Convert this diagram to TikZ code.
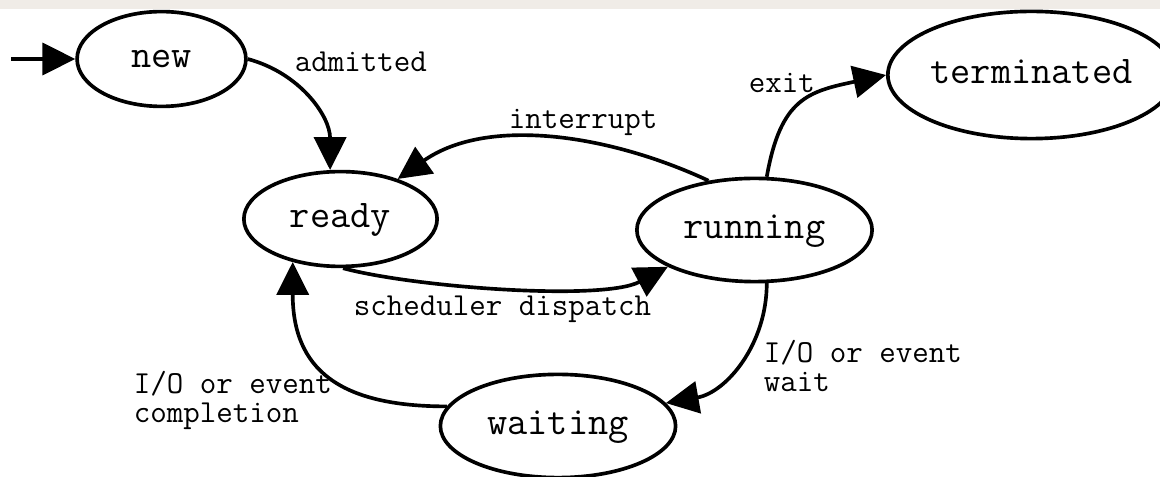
\documentclass[tikz,border=0pt]{standalone}
\usepackage{fontspec}
\usetikzlibrary{arrows.meta,shapes.geometric}
\definecolor{topband}{RGB}{240,236,231}

\begin{document}
\begin{tikzpicture}[x=0.025cm,y=0.025cm,line width=2.6pt,
  state/.style={draw,ellipse,inner sep=0pt,font=\ttfamily\fontsize{27.9}{32}\selectfont,
    text height=0.6cm,text depth=0.15cm},
  lbl/.style={anchor=base west,inner sep=0pt,align=left,
    font=\ttfamily\fontsize{22.8}{21}\selectfont},
  trans/.style={-{Triangle[length=0.82cm,width=0.8cm]}}]
\useasboundingbox (0,0) rectangle (1160,-477);
\fill[topband] (0,0) rectangle (1160,-9);
% states
\node[state,minimum width=4.22cm,minimum height=2.37cm] (new) at (161.5,-59) {new};
\node[state,minimum width=4.83cm,minimum height=2.37cm] (ready) at (340.5,-219) {ready};
\node[state,minimum width=5.88cm,minimum height=2.58cm] (running) at (754.5,-230) {running};
\node[state,minimum width=5.88cm,minimum height=2.58cm] (waiting) at (558,-426) {waiting};
\node[state,minimum width=7.18cm,minimum height=3.18cm] (terminated) at (1031.5,-75) {terminated};
\coordinate (start) at (11,-59);
% transitions
\draw[trans] (start) -- (new);
\draw[trans] (new.east) to[out=-15,in=90] (ready.102);
\draw[trans] (running.133) to[out=155,in=35,looseness=.9] (ready.35);
\draw[trans] (ready.-87) to[out=-15,in=208,looseness=.58] (running.203);
\draw[trans] (running.77) to[out=80,in=192,looseness=1.3] (terminated.west);
\draw[trans] (running.-77) to[out=-90,in=10] (waiting.12);
\draw[trans] (waiting.170) to[out=180,in=-90,looseness=1.3] (ready.222);
% labels
\node[lbl] (admitted) at (293,-72) {admitted};
\node[lbl] (interrupt) at (507,-129) {interrupt};
\node[lbl] (exit) at (747,-93) {exit};
\node[lbl] (dispatch) at (352,-316) {scheduler dispatch};
\node[lbl] (iowait) at (762,-392) {I/O or event\\wait};
\node[lbl] (iodone) at (132,-423) {I/O or event\\completion};
\end{tikzpicture}
\end{document}
